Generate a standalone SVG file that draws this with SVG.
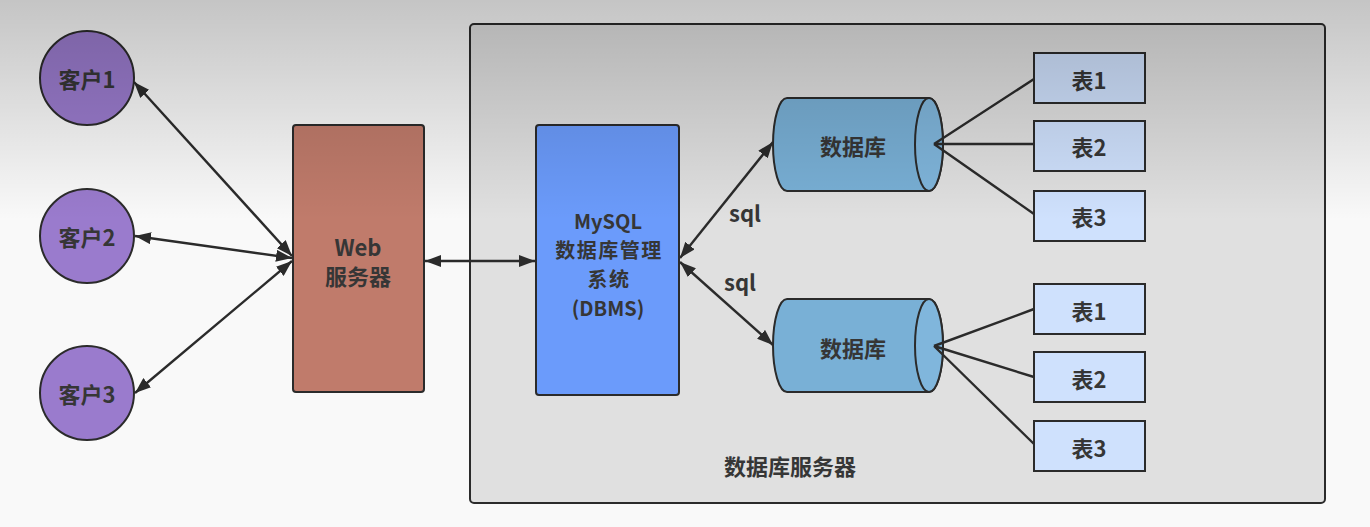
<svg xmlns="http://www.w3.org/2000/svg" width="1370" height="527" viewBox="0 0 1370 527">
<defs>
<style>
.lbl{font-family:"Noto Sans CJK SC","Liberation Sans",sans-serif;font-weight:bold;font-size:22px;fill:#363636;text-anchor:middle}
.dl{font-size:20px}
.cj{letter-spacing:1.5px}
.edge{stroke:#2b2b2b;stroke-width:2.4;fill:none}
.box{stroke:#2b2b2b;stroke-width:2}
</style>
<linearGradient id="shade" x1="0" y1="0" x2="0" y2="220" gradientUnits="userSpaceOnUse">
<stop offset="0" stop-color="#000" stop-opacity="0.21"/>
<stop offset="1" stop-color="#000" stop-opacity="0"/>
</linearGradient>
<marker id="ah" viewBox="0 0 16 12" refX="16" refY="6" markerWidth="16" markerHeight="12" markerUnits="userSpaceOnUse" orient="auto-start-reverse">
<path d="M0,0 L16,6 L0,12 Z" fill="#2b2b2b"/>
</marker>
</defs>
<rect x="0" y="0" width="1370" height="527" fill="#f9f9f9"/>

<g id="db-server">
<rect x="470" y="24" width="855" height="479" rx="4" fill="#e0e0e0" class="box"/>
<text class="lbl" x="790" y="475">数据库服务器</text>
</g>

<g id="client1">
<circle cx="87" cy="78" r="47" fill="#9a7bcd" class="box"/>
<text class="lbl" x="87" y="88">客户1</text>
</g>
<g id="client2">
<circle cx="87" cy="236" r="47" fill="#9a7bcd" class="box"/>
<text class="lbl" x="87" y="246">客户2</text>
</g>
<g id="client3">
<circle cx="87" cy="393" r="47" fill="#9a7bcd" class="box"/>
<text class="lbl" x="87" y="403">客户3</text>
</g>

<g id="web">
<rect x="293" y="125" width="131" height="267" rx="3" fill="#c07b6b" class="box"/>
<text class="lbl" x="358" y="256">Web</text>
<text class="lbl" x="358" y="285">服务器</text>
</g>

<g id="dbms">
<rect x="536" y="125" width="143" height="270" rx="3" fill="#6b9bfb" class="box"/>
<text class="lbl dl" x="608" y="229">MySQL</text>
<text class="lbl dl cj" x="609" y="258">数据库管理</text>
<text class="lbl dl cj" x="609" y="287">系统</text>
<text class="lbl dl" x="608" y="316">(DBMS)</text>
</g>

<g id="db1">
<path d="M787,98 L929,98 A14,46.5 0 0 1 929,191 L787,191 A14,46.5 0 0 1 787,98 Z" fill="#79b0d6" class="box"/>
<ellipse cx="929" cy="144.5" rx="14" ry="46.5" fill="#80b6dc" class="box"/>
<text class="lbl" x="853" y="155">数据库</text>
</g>
<g id="db2">
<path d="M787,299 L929,299 A14,46.5 0 0 1 929,392 L787,392 A14,46.5 0 0 1 787,299 Z" fill="#79b0d6" class="box"/>
<ellipse cx="929" cy="345.5" rx="14" ry="46.5" fill="#80b6dc" class="box"/>
<text class="lbl" x="853" y="357">数据库</text>
</g>

<g id="t1a"><rect x="1034" y="53" width="111" height="50" fill="#cfe1fd" class="box"/><text class="lbl" x="1089" y="89">表1</text></g>
<g id="t2a"><rect x="1034" y="121" width="111" height="50" fill="#cfe1fd" class="box"/><text class="lbl" x="1089" y="156">表2</text></g>
<g id="t3a"><rect x="1034" y="191" width="111" height="50" fill="#cfe1fd" class="box"/><text class="lbl" x="1089" y="226">表3</text></g>
<g id="t1b"><rect x="1034" y="284" width="111" height="50" fill="#cfe1fd" class="box"/><text class="lbl" x="1089" y="320">表1</text></g>
<g id="t2b"><rect x="1034" y="352" width="111" height="50" fill="#cfe1fd" class="box"/><text class="lbl" x="1089" y="388">表2</text></g>
<g id="t3b"><rect x="1034" y="421" width="111" height="50" fill="#cfe1fd" class="box"/><text class="lbl" x="1089" y="457">表3</text></g>

<g id="connectors">
<path class="edge" d="M134,82 L292,256" marker-start="url(#ah)" marker-end="url(#ah)"/>
<path class="edge" d="M135,236 L292,258" marker-start="url(#ah)" marker-end="url(#ah)"/>
<path class="edge" d="M135,393 L292,261" marker-start="url(#ah)" marker-end="url(#ah)"/>
<path class="edge" d="M425,261 L535,261" marker-start="url(#ah)" marker-end="url(#ah)"/>
<path class="edge" d="M680,258 L773,142" marker-start="url(#ah)" marker-end="url(#ah)"/>
<path class="edge" d="M680,262 L773,345" marker-start="url(#ah)" marker-end="url(#ah)"/>
<path class="edge" d="M934,144 L1034,79 M934,144 L1034,144 M934,144 L1034,214"/>
<path class="edge" d="M934,346 L1034,309 M934,346 L1034,377 M934,346 L1034,444"/>
<text class="lbl" x="745" y="222">sql</text>
<text class="lbl" x="740" y="291">sql</text>
</g>

<rect x="0" y="0" width="1370" height="220" fill="url(#shade)" pointer-events="none"/>
</svg>
